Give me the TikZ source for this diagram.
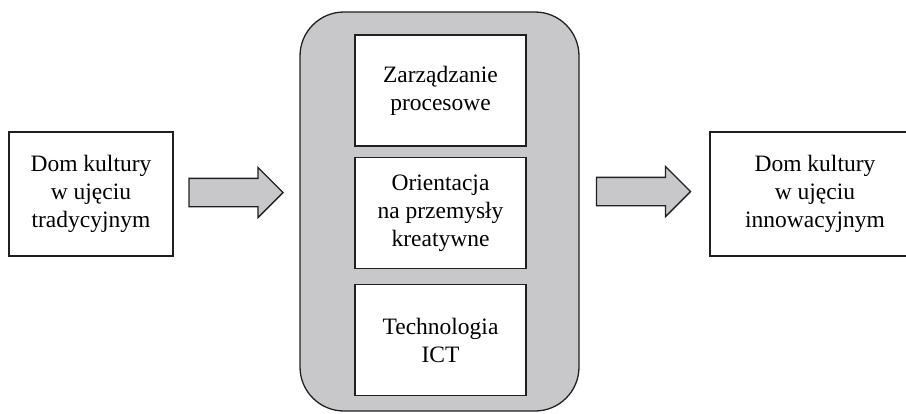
\documentclass[tikz,border=0pt]{standalone}
\usepackage{fontspec}
\setmainfont{Liberation Serif}
\definecolor{dkline}{HTML}{231F20}
\definecolor{dkgray}{HTML}{C8C8CA}
\usetikzlibrary{positioning,shapes.arrows}

\begin{document}
\begin{tikzpicture}[
    x=1pt, y=-1pt,
    sidebox/.style={draw=dkline, fill=white, line width=1.3pt,
                    minimum height=124pt, align=center,
                    font=\fontsize{23.5}{28}\selectfont},
    innerbox/.style={draw=dkline, fill=white, line width=1.3pt,
                     minimum width=171pt, minimum height=111pt, align=center,
                     font=\fontsize{23.5}{28}\selectfont},
    frame/.style={draw=dkline, fill=dkgray, rounded corners=44pt,
                  minimum width=279pt, minimum height=399pt, line width=1.3pt},
    blockarr/.style={single arrow, draw=dkline, fill=dkgray, line width=1.3pt,
                     minimum height=94pt, inner sep=13.5pt,
                     single arrow head extend=11pt, single arrow head indent=0pt},
    node distance=10pt,
  ]
  \useasboundingbox (0,0) rectangle (906,413);

  % Central block
  \node[frame] (mid) at (439.5,211.5) {};
  \node[innerbox] (proc) at (440.5,90.5) {Zarządzanie\\procesowe};
  \node[innerbox, below=10pt of proc] (kreat) {Orientacja\\na przemysły\\kreatywne};
  \node[innerbox, below=15pt of kreat] (ict) {Technologia\\ICT};

  % Side boxes
  \node[sidebox, minimum width=164pt] (trad) at (91,194) {Dom kultury\\w ujęciu\\tradycyjnym};
  \node[sidebox, minimum width=210pt] (innow) at (815,194) {Dom kultury\\w ujęciu\\innowacyjnym};

  % Arrows
  \node[blockarr] (arrL) at (229,192.5) {};
  \node[blockarr] (arrR) at (636.5,191.5) {};
\end{tikzpicture}
\end{document}
